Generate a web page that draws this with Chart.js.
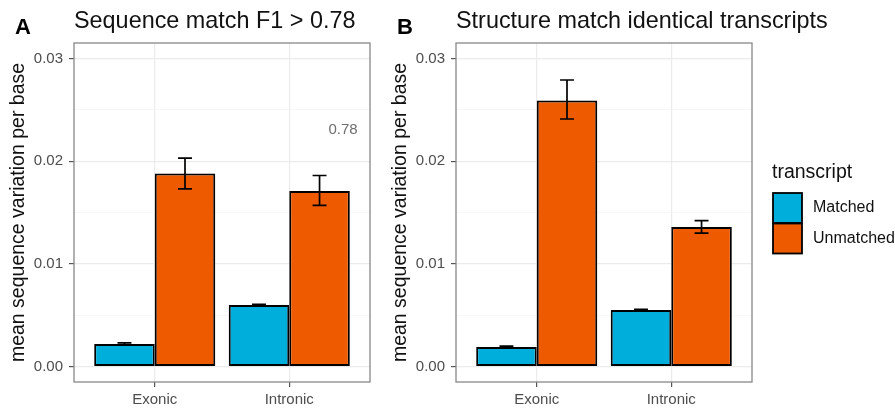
<!DOCTYPE html>
<html>
<head>
<meta charset="utf-8">
<script src="https://cdn.jsdelivr.net/npm/chart.js@4"></script>
<style>
  body { margin: 0; background: #fff; }
  #wrap { position: relative; width: 895px; height: 408px; overflow: hidden; }
  canvas { position: absolute; top: 0; }
  #panelA { left: 0; }
  #panelB { left: 382px; }
</style>
</head>
<body>
<div id="wrap">
  <canvas id="panelA" width="376" height="408"></canvas>
  <canvas id="panelB" width="513" height="408"></canvas>
</div>
<script>
// categories, series and ticks
const categories = ['Exonic', 'Intronic'];
const seriesNames = ['Matched', 'Unmatched'];
const seriesColors = ['#00AEDB', '#EE5A00'];
const yTicks = [0, 0.005, 0.01, 0.015, 0.02, 0.025, 0.03];

// panel A: Sequence match F1 > 0.78
const aMatched = [0.0022, 0.0060];
const aMatchedLow = [0.0021, 0.00594];
const aMatchedHigh = [0.0023, 0.00606];
const aUnmatched = [0.0188, 0.0171];
const aUnmatchedLow = [0.0173, 0.0157];
const aUnmatchedHigh = [0.0203, 0.0186];

// panel B: Structure match identical transcripts
const bMatched = [0.0019, 0.0055];
const bMatchedLow = [0.0018, 0.00544];
const bMatchedHigh = [0.0020, 0.00556];
const bUnmatched = [0.0259, 0.0136];
const bUnmatchedLow = [0.0241, 0.0130];
const bUnmatchedHigh = [0.0279, 0.0142];

const FONT = "'Liberation Sans', Arial, sans-serif";

function toPoints(vals) {
    return vals.map((v, i) => ({ x: i + 1, y: v }));
}

function isMajor(v) {
    return Math.abs(Math.round(v * 100) - v * 100) < 1e-6;
}

const panelPlugin = {
    id: 'panelDecor',
    afterDatasetsDraw(chart, args, opts) {
        const ctx = chart.ctx;
        const area = chart.chartArea;
        const xs = chart.scales.x, ys = chart.scales.y;

        // error bars
        ctx.save();
        ctx.strokeStyle = '#000';
        ctx.lineWidth = 1.7;
        chart.data.datasets.forEach((ds, di) => {
            const meta = chart.getDatasetMeta(di);
            meta.data.forEach((bar, i) => {
                const lo = ys.getPixelForValue(ds.errLow[i]);
                const hi = ys.getPixelForValue(ds.errHigh[i]);
                const half = bar.width * 0.115;
                ctx.beginPath();
                ctx.moveTo(bar.x, lo); ctx.lineTo(bar.x, hi);
                ctx.moveTo(bar.x - half, lo); ctx.lineTo(bar.x + half, lo);
                ctx.moveTo(bar.x - half, hi); ctx.lineTo(bar.x + half, hi);
                ctx.stroke();
            });
        });
        ctx.restore();

        // panel border
        ctx.save();
        ctx.strokeStyle = '#888';
        ctx.lineWidth = 1.3;
        ctx.strokeRect(area.left, area.top, area.right - area.left, area.bottom - area.top);
        ctx.restore();

        // annotation
        if (opts.note) {
            ctx.save();
            ctx.fillStyle = '#6e6e6e';
            ctx.font = '15px ' + FONT;
            ctx.textAlign = 'center';
            ctx.textBaseline = 'middle';
            ctx.fillText(opts.note.text, xs.getPixelForValue(opts.note.x), ys.getPixelForValue(opts.note.y));
            ctx.restore();
        }

        // panel letter and title
        ctx.save();
        ctx.fillStyle = '#000';
        ctx.textBaseline = 'alphabetic';
        ctx.font = 'bold 22px ' + FONT;
        ctx.fillText(opts.letter, 15, 34);
        ctx.fillStyle = '#111';
        ctx.font = '23.4px ' + FONT;
        ctx.fillText(opts.title, area.left, 28);
        ctx.restore();

        // legend
        if (opts.legend) {
            const lx = area.right + 21;
            ctx.save();
            ctx.fillStyle = '#111';
            ctx.font = '19.5px ' + FONT;
            ctx.fillText('transcript', lx - 1, 178);
            ctx.font = '16px ' + FONT;
            ctx.textBaseline = 'middle';
            seriesNames.forEach((name, k) => {
                const top = 193 + k * 30.5;
                ctx.fillStyle = seriesColors[k];
                ctx.fillRect(lx, top, 29, 30);
                ctx.strokeStyle = '#000';
                ctx.lineWidth = 1.8;
                ctx.strokeRect(lx, top, 29, 30);
                ctx.fillStyle = '#111';
                ctx.fillText(name, lx + 40, top + 15);
            });
            ctx.restore();
        }
    }
};

function makePanel(canvasId, matched, matchedLow, matchedHigh, unmatched, unmatchedLow, unmatchedHigh, decor, rightPad) {
    const ctx = document.getElementById(canvasId).getContext('2d');
    return new Chart(ctx, {
        type: 'bar',
        data: {
            datasets: [{
                label: seriesNames[0],
                data: toPoints(matched),
                errLow: matchedLow,
                errHigh: matchedHigh,
                backgroundColor: seriesColors[0],
                borderColor: '#000',
                borderWidth: 2,
                borderSkipped: false,
                categoryPercentage: 0.9,
                barPercentage: 1.0
            }, {
                label: seriesNames[1],
                data: toPoints(unmatched),
                errLow: unmatchedLow,
                errHigh: unmatchedHigh,
                backgroundColor: seriesColors[1],
                borderColor: '#000',
                borderWidth: 2,
                borderSkipped: false,
                categoryPercentage: 0.9,
                barPercentage: 1.0
            }]
        },
        options: {
            responsive: false,
            animation: false,
            layout: { padding: { left: 0, right: rightPad, top: 43, bottom: 0 } },
            plugins: {
                legend: { display: false },
                tooltip: { enabled: false },
                panelDecor: decor
            },
            scales: {
                x: {
                    type: 'linear',
                    min: 0.4,
                    max: 2.6,
                    offset: false,
                    afterBuildTicks: function (scale) {
                        scale.ticks = categories.map((c, i) => ({ value: i + 1 }));
                    },
                    afterFit: function (scale) { scale.height = 26; },
                    ticks: {
                        autoSkip: false,
                        maxRotation: 0,
                        padding: 4,
                        color: '#4d4d4d',
                        font: { family: FONT, size: 15 },
                        callback: function (value) { return categories[Math.round(value) - 1]; }
                    },
                    grid: { offset: false, color: '#ebebeb', lineWidth: 1.2, tickLength: 5, tickColor: '#555' },
                    border: { display: false }
                },
                y: {
                    type: 'linear',
                    min: -0.0015,
                    max: 0.0315,
                    afterBuildTicks: function (scale) {
                        scale.ticks = yTicks.map(v => ({ value: v }));
                    },
                    afterFit: function (scale) { scale.width = 74; },
                    ticks: {
                        autoSkip: false,
                        padding: 6,
                        color: '#4d4d4d',
                        font: { family: FONT, size: 15 },
                        callback: function (value) {
                            return isMajor(value) ? value.toFixed(2) : '';
                        }
                    },
                    grid: {
                        tickLength: 5,
                        color: function (c) {
                            return isMajor(c.tick ? c.tick.value : 0) ? '#ebebeb' : '#f3f3f3';
                        },
                        lineWidth: function (c) {
                            return isMajor(c.tick ? c.tick.value : 0) ? 1.2 : 0.7;
                        },
                        tickColor: function (c) {
                            return isMajor(c.tick ? c.tick.value : 0) ? '#555' : 'rgba(0,0,0,0)';
                        }
                    },
                    border: { display: false },
                    title: {
                        display: true,
                        text: 'mean sequence variation per base',
                        color: '#111',
                        font: { family: FONT, size: 19.5 },
                        padding: { top: 7, bottom: 0 }
                    }
                }
            }
        },
        plugins: [panelPlugin]
    });
}

makePanel('panelA', aMatched, aMatchedLow, aMatchedHigh, aUnmatched, aUnmatchedLow, aUnmatchedHigh,
    { letter: 'A', title: 'Sequence match F1 > 0.78', note: { text: '0.78', x: 2.4, y: 0.023 } }, 6);
makePanel('panelB', bMatched, bMatchedLow, bMatchedHigh, bUnmatched, bUnmatchedLow, bUnmatchedHigh,
    { letter: 'B', title: 'Structure match identical transcripts', legend: true }, 143);
</script>
</body>
</html>
